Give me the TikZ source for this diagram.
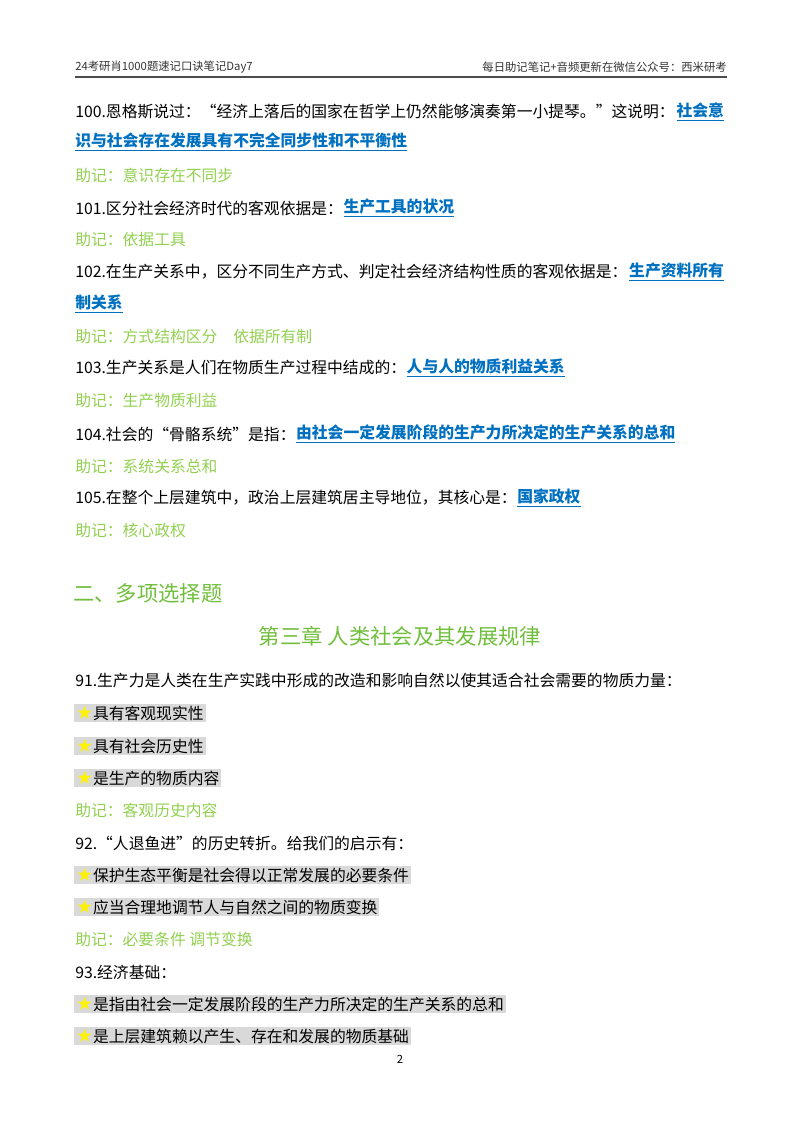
\documentclass[tikz,border=0pt]{standalone}
\usepackage{fontspec}
\setmainfont{Noto Sans CJK SC}
\newfontfamily\symf{DejaVu Sans}
\definecolor{ansblue}{RGB}{0,112,192}
\definecolor{memgreen}{RGB}{146,208,80}
\definecolor{headgreen}{RGB}{112,190,60}
\definecolor{hlgray}{RGB}{217,217,217}
\newcommand{\ystar}{{\symf\fontsize{14}{14}\selectfont\textcolor{yellow}{★}}}
\tikzset{
 txt/.style={anchor=west,inner sep=0pt,font=\fontsize{11.85}{14}\selectfont},
 ans/.style={txt,text=ansblue,font=\fontsize{11.85}{14}\selectfont\bfseries},
 mem/.style={txt,text=memgreen},
 hl/.style={txt,fill=hlgray,inner sep=1.5pt},
 hdr/.style={inner sep=0pt,font=\fontsize{8.5}{10}\selectfont,text=black!80}
}
\begin{document}
\begin{tikzpicture}[x=0.75pt,y=-0.75pt]
\useasboundingbox (0,0) rectangle (800,1132);
\node[hdr,anchor=west] (h1) at (75,67) {24考研肖1000题速记口诀笔记Day7};
\node[hdr,anchor=east] (h2) at (727,67) {每日助记笔记+音频更新在微信公众号：西米研考};
\draw[black!70,line width=0.8pt] (75,77) -- (727,77);
\node[txt] (q100) at (75,112) {100.恩格斯说过：“经济上落后的国家在哲学上仍然能够演奏第一小提琴。”这说明：};
\node[ans,anchor=west] (a100) at ([xshift=1pt]q100.east) {\underline{社会意}};
\node[ans] (a100b) at (75,142) {\underline{识与社会存在发展具有不完全同步性和不平衡性}};
\node[mem] (m100) at (75,175) {助记：意识存在不同步};
\node[txt] (q101) at (75,208) {101.区分社会经济时代的客观依据是：};
\node[ans,anchor=west] (a101) at (q101.east) {\underline{生产工具的状况}};
\node[mem] (m101) at (75,240) {助记：依据工具};
\node[txt] (q102) at (75,272) {102.在生产关系中，区分不同生产方式、判定社会经济结构性质的客观依据是：};
\node[ans,anchor=west] (a102) at ([xshift=1pt]q102.east) {\underline{生产资料所有}};
\node[ans] (a102b) at (75,304) {\underline{制关系}};
\node[mem] (m102) at (75,336) {助记：方式结构区分\quad 依据所有制};
\node[txt] (q103) at (75,368) {103.生产关系是人们在物质生产过程中结成的：};
\node[ans,anchor=west] (a103) at (q103.east) {\underline{人与人的物质利益关系}};
\node[mem] (m103) at (75,401) {助记：生产物质利益};
\node[txt] (q104) at (75,434) {104.社会的“骨骼系统”是指：};
\node[ans,anchor=west] (a104) at (q104.east) {\underline{由社会一定发展阶段的生产力所决定的生产关系的总和}};
\node[mem] (m104) at (75,466) {助记：系统关系总和};
\node[txt] (q105) at (75,498) {105.在整个上层建筑中，政治上层建筑居主导地位，其核心是：};
\node[ans,anchor=west] (a105) at (q105.east) {\underline{国家政权}};
\node[mem] (m105) at (75,530) {助记：核心政权};
\node[txt,text=headgreen,font=\fontsize{16}{18}\selectfont] (sec) at (73,593) {二、多项选择题};
\node[inner sep=0pt,text=headgreen,font=\fontsize{16}{18}\selectfont] (ch) at (400,636) {第三章\ 人类社会及其发展规律};
\node[txt] (q91) at (75,680) {91.生产力是人类在生产实践中形成的改造和影响自然以使其适合社会需要的物质力量：};
\node[hl] (i91a) at (74,713) {\ystar 具有客观现实性};
\node[hl] (i91b) at (74,746) {\ystar 具有社会历史性};
\node[hl] (i91c) at (74,778) {\ystar 是生产的物质内容};
\node[mem] (m91) at (75,810) {助记：客观历史内容};
\node[txt] (q92) at (75,843) {92.“人退鱼进”的历史转折。给我们的启示有：};
\node[hl] (i92a) at (74,875) {\ystar 保护生态平衡是社会得以正常发展的必要条件};
\node[hl] (i92b) at (74,907) {\ystar 应当合理地调节人与自然之间的物质变换};
\node[mem] (m92) at (75,939) {助记：必要条件\ 调节变换};
\node[txt] (q93) at (75,972) {93.经济基础：};
\node[hl] (i93a) at (74,1004) {\ystar 是指由社会一定发展阶段的生产力所决定的生产关系的总和};
\node[hl] (i93b) at (74,1036) {\ystar 是上层建筑赖以产生、存在和发展的物质基础};
\node[inner sep=0pt,font=\fontsize{8.5}{10}\selectfont] (pg) at (400,1059) {2};
\end{tikzpicture}
\end{document}
